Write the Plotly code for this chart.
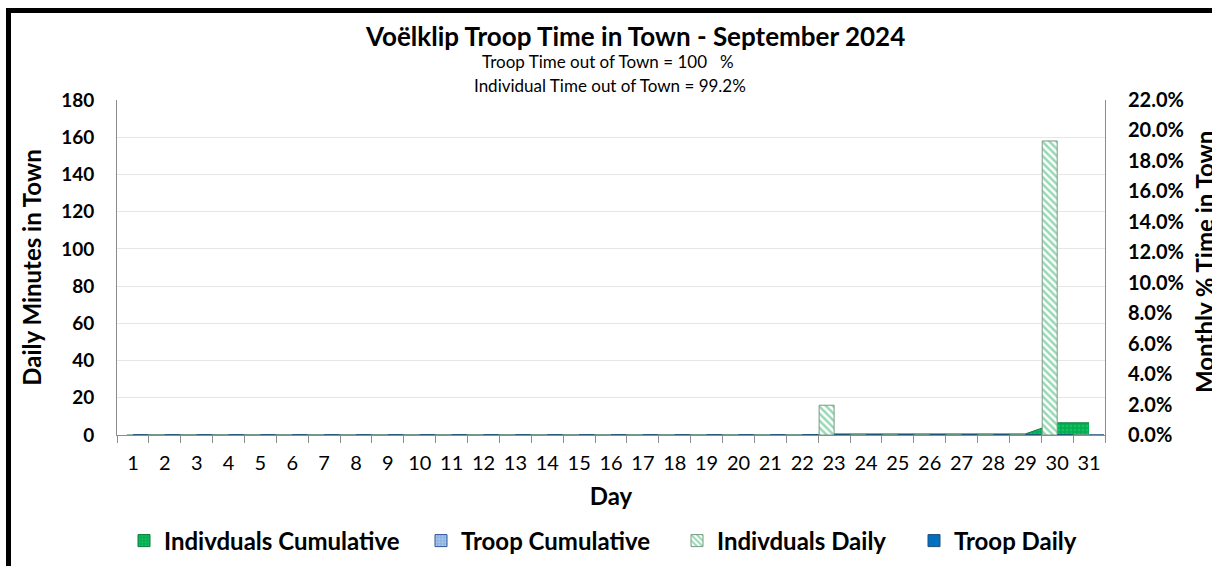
import plotly.graph_objects as go

# ---- data ----
days = [str(d) for d in range(1, 32)]
indiv_daily = [0]*22 + [16] + [0]*6 + [158] + [0]
troop_daily = [0]*31
indiv_cum = [0]*22 + [0.0007]*7 + [0.008, 0.008]
troop_cum = [0]*31
left_ticks = [0, 20, 40, 60, 80, 100, 120, 140, 160, 180]
right_ticks = [i/100 for i in range(0, 23, 2)]

W, H = 1212, 566
# plot area edges in pixels
L, R, T, B = 117, 1105, 100, 435
FONT = "Lato"

def px(x):
    return (x - L) / (R - L)

def py(y):
    return (B - y) / (B - T)

IC_COL, IC_LINE = "#00B050", "#0B7A3B"
TC_COL, TC_LINE = "#9DC3E6", "#2F5597"
ID_FG, ID_LINE = "#2DB36A", "#7A9A85"
TD_COL, TD_LINE = "#0070C0", "#1F4E79"
ic_pattern = dict(shape=".", fgcolor="#3CC87A", bgcolor=IC_COL, size=4, solidity=0.3)
tc_pattern = dict(shape=".", fgcolor="#C9DDF2", bgcolor="#8EB4E3", size=4, solidity=0.3)
id_pattern = dict(shape="\\", fgcolor=ID_FG, bgcolor="white", size=5, solidity=0.5)

fig = go.Figure()

# cumulative areas (percent axis, drawn beneath bars)
fig.add_trace(go.Scatter(
    x=days, y=indiv_cum, name="Indivduals Cumulative", yaxis="y", mode="lines",
    line=dict(color=IC_LINE, width=1), fill="tozeroy", fillcolor=IC_COL,
    fillpattern=ic_pattern, showlegend=False,
))
fig.add_trace(go.Scatter(
    x=days, y=troop_cum, name="Troop Cumulative", yaxis="y", mode="lines",
    line=dict(color=TC_LINE, width=1), fill="tozeroy", fillcolor=TC_COL,
    fillpattern=tc_pattern, showlegend=False,
))
# daily bars (minutes axis)
fig.add_trace(go.Bar(
    x=days, y=indiv_daily, name="Indivduals Daily", yaxis="y2", legend="legend3",
    marker=dict(color="white", line=dict(color=ID_LINE, width=1), pattern=id_pattern),
))
fig.add_trace(go.Bar(
    x=days, y=troop_daily, name="Troop Daily", yaxis="y2", legend="legend4",
    marker=dict(color=TD_COL, line=dict(color=TD_LINE, width=1)),
))
# legend-only entries (square keys) for the cumulative areas
fig.add_trace(go.Bar(
    x=[None], y=[None], name="Indivduals Cumulative", xaxis="x2", yaxis="y3", legend="legend",
    marker=dict(color=IC_COL, line=dict(color=IC_LINE, width=1), pattern=ic_pattern),
))
fig.add_trace(go.Bar(
    x=[None], y=[None], name="Troop Cumulative", xaxis="x2", yaxis="y3", legend="legend2",
    marker=dict(color=TC_COL, line=dict(color=TC_LINE, width=1), pattern=tc_pattern),
))

axis_font = dict(family=FONT, size=20, color="black", weight="bold")
title_font = dict(family=FONT, size=24, color="black", weight="bold")
leg_font = dict(family=FONT, size=24, color="black", weight="bold")

def leg(symbol_left):
    return dict(x=px(symbol_left - 16), xanchor="left", y=py(541), yanchor="middle",
                font=leg_font, bgcolor="rgba(0,0,0,0)", borderwidth=0, itemwidth=30)

fig.update_layout(
    width=W, height=H,
    margin=dict(l=L, r=W - R, t=T, b=H - B, autoexpand=False),
    paper_bgcolor="white", plot_bgcolor="white",
    font=dict(family=FONT, color="black"),
    barmode="group", bargap=0.06, bargroupgap=0,
    showlegend=True,
    legend=leg(140), legend2=leg(437), legend3=leg(693), legend4=leg(930),
    xaxis=dict(type="category", tickson="boundaries", ticks="outside", ticklen=7, tickangle=0,
               tickcolor="#8C8C8C", showline=True, linecolor="#8C8C8C", linewidth=1,
               showgrid=False, tickfont=dict(family=FONT, size=20, color="black"),
               ticklabelstandoff=10,
               title=dict(text="Day", font=title_font, standoff=15),
               range=[-0.5, 30.5]),
    yaxis=dict(side="right", range=[0, 0.22], tickvals=right_ticks, tickformat=".1%",
               showgrid=False, zeroline=False, showline=True, linecolor="#8C8C8C", linewidth=1,
               ticks="", tickfont=axis_font, ticklabelstandoff=18),
    yaxis2=dict(side="left", overlaying="y", range=[0, 180], tickvals=left_ticks,
                showgrid=True, gridcolor="#E6E6E6", gridwidth=1, zeroline=False,
                showline=True, linecolor="#8C8C8C", linewidth=1, ticks="",
                tickfont=dict(family=FONT, size=19, color="black", weight="bold"),
                ticklabelstandoff=18,
                title=dict(text="Daily Minutes in Town", font=title_font, standoff=12)),
    xaxis2=dict(domain=[0, 0.01], anchor="y3", visible=False),
    yaxis3=dict(domain=[0, 0.01], anchor="x2", visible=False),
)

# right axis title (sits at the chart's clipped right edge, as in the original)
fig.add_annotation(text="<b>Monthly % Time in Town</b>", x=px(1204), y=py(262), textangle=-90,
                   xref="paper", yref="paper", showarrow=False, xanchor="center", yanchor="middle",
                   font=dict(family=FONT, size=24, color="black"))

fig.add_annotation(text="<b>Voëlklip Troop Time in Town - September 2024</b>", x=px(635), y=py(36),
                   xref="paper", yref="paper", showarrow=False, xanchor="center", yanchor="middle",
                   font=dict(family=FONT, size=26, color="black"))
fig.add_annotation(text="Troop Time out of Town = 100   %", x=px(608), y=py(61),
                   xref="paper", yref="paper", showarrow=False, xanchor="center", yanchor="middle",
                   font=dict(family=FONT, size=17, color="black"))
fig.add_annotation(text="Individual Time out of Town = 99.2%", x=px(610), y=py(85),
                   xref="paper", yref="paper", showarrow=False, xanchor="center", yanchor="middle",
                   font=dict(family=FONT, size=17, color="black"))

# outer black frame (left and top edges of the original chart border)
fig.add_shape(type="line", xref="paper", yref="paper", x0=px(8.5), x1=px(8.5), y0=py(8), y1=py(580),
              line=dict(color="black", width=5))
fig.add_shape(type="line", xref="paper", yref="paper", x0=px(6), x1=px(1230), y0=py(10.5), y1=py(10.5),
              line=dict(color="black", width=5))

fig.write_html("out.html", config={"displayModeBar": False},
               post_script="document.body.style.margin='0';document.body.style.overflow='hidden';")
